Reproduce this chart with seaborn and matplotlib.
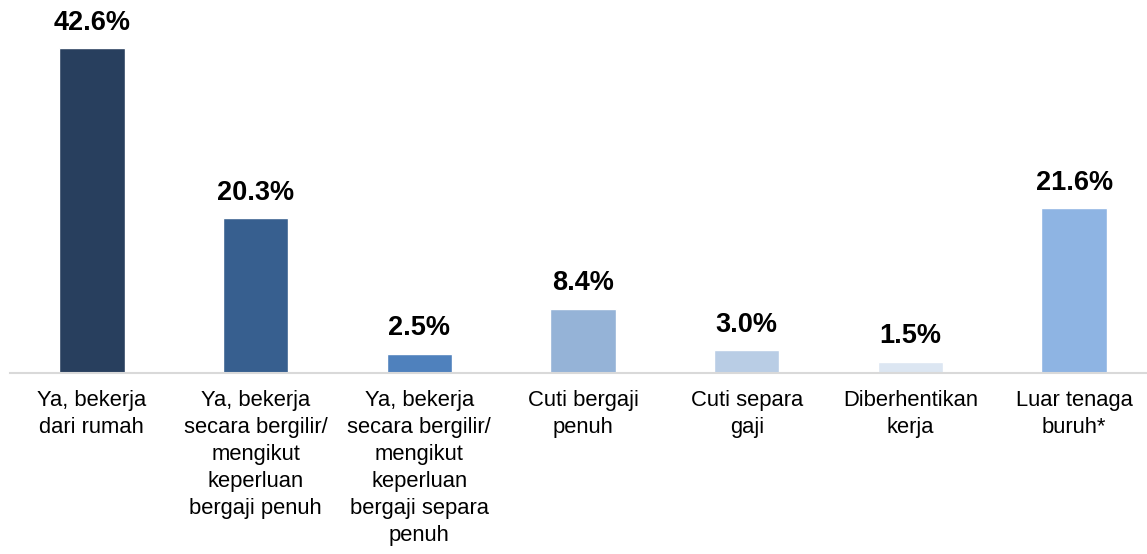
import matplotlib.pyplot as plt
import pandas as pd
import seaborn as sns

# Labels as they wrap in the reference
categories = [
    "Ya, bekerja\ndari rumah",
    "Ya, bekerja\nsecara bergilir/\nmengikut\nkeperluan\nbergaji penuh",
    "Ya, bekerja\nsecara bergilir/\nmengikut\nkeperluan\nbergaji separa\npenuh",
    "Cuti bergaji\npenuh",
    "Cuti separa\ngaji",
    "Diberhentikan\nkerja",
    "Luar tenaga\nburuh*",
]
percentages = [42.6, 20.3, 2.5, 8.4, 3.0, 1.5, 21.6]
bar_colors = ["#283F5E", "#375F8F", "#4F81BD", "#95B3D7", "#B9CDE5", "#DCE6F2", "#8EB4E3"]

df = pd.DataFrame({"category": categories, "pct": percentages})

sns.set_theme(style="white")
plt.rcParams["font.family"] = ["Liberation Sans", "DejaVu Sans"]

fig = plt.figure(figsize=(11.47, 5.54), dpi=100)
ax = fig.add_axes([10 / 1147, 181 / 554, 1 - 10 / 1147, (373 - 30) / 554])

sns.barplot(
    data=df,
    x="category",
    y="pct",
    hue="category",
    palette=bar_colors,
    legend=False,
    width=0.4,
    saturation=1,
    ax=ax,
)

# value labels above each bar
for i, v in enumerate(percentages):
    ax.annotate(
        f"{v:.1f}%",
        (i, v),
        xytext=(0, 9),
        textcoords="offset points",
        ha="center",
        va="bottom",
        fontsize=19.5,
        fontweight="bold",
        color="black",
        annotation_clip=False,
    )

ax.set_xlim(-0.5, 6.445)
ax.set_ylim(0, 45)
ax.set_xlabel("")
ax.set_ylabel("")
ax.set_yticks([])
for side in ["top", "right", "left"]:
    ax.spines[side].set_visible(False)
ax.spines["bottom"].set_color("#D9D9D9")
ax.spines["bottom"].set_linewidth(1.5)
ax.tick_params(axis="x", length=0, pad=12, labelsize=15.8, colors="black")
for lbl in ax.get_xticklabels():
    lbl.set_linespacing(1.38)
    lbl.set_verticalalignment("top")

fig.savefig("out.png", dpi=100, facecolor="white")
